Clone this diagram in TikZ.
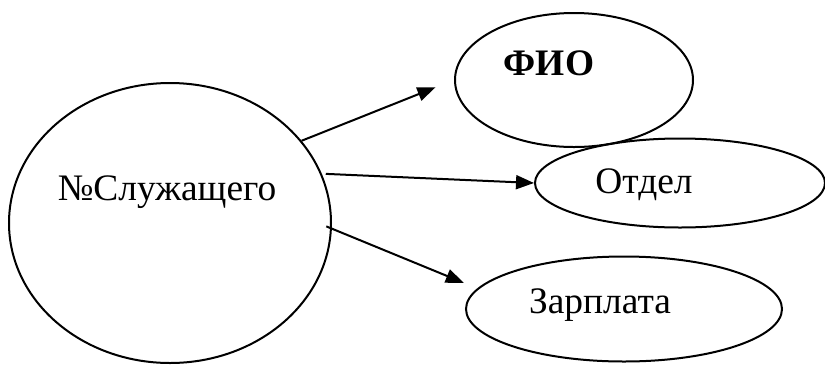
\documentclass[tikz,border=0pt]{standalone}
\usepackage{fontspec}
\setmainfont{Liberation Serif}
\usepackage{tikz}
\usetikzlibrary{shapes.geometric, arrows.meta}

\tikzset{
    attr/.style={ellipse, draw, line width=1pt, inner sep=0pt},
    lbl/.style={anchor=base, font=\fontsize{18.7}{21}\selectfont},
    link/.style={line width=1pt, -{Triangle[length=9pt, width=7pt]}}
}

\begin{document}
\begin{tikzpicture}[x=0.5pt, y=-0.5pt]
    \useasboundingbox (0, 0) rectangle (825, 365);

    \node[attr, minimum width=161pt, minimum height=140pt] at (170, 223) (emp) {};
    \node[attr, minimum width=119pt, minimum height=67pt] at (574, 80) (fio) {};
    \node[attr, minimum width=145pt, minimum height=44.5pt] at (680, 183) (dept) {};
    \node[attr, minimum width=158pt, minimum height=52.5pt] at (624, 309) (pay) {};

    \node[lbl] at (167, 200) (emptext) {№Служащего};
    \node[lbl, font=\fontsize{18.7}{21}\selectfont\bfseries] at (549, 75) (fiotext) {ФИО};
    \node[lbl] at (644, 193) (depttext) {Отдел};
    \node[lbl] at (600, 313) (paytext) {Зарплата};

    \draw[link, shorten >=10pt] (emp.32) -- (fio.west);
    \draw[link, shorten <=2pt] (emp.18) -- (dept.west);
    \draw[link, shorten <=-3pt, shorten >=7.3pt] (emp.-2) -- (pay.172);
\end{tikzpicture}
\end{document}
